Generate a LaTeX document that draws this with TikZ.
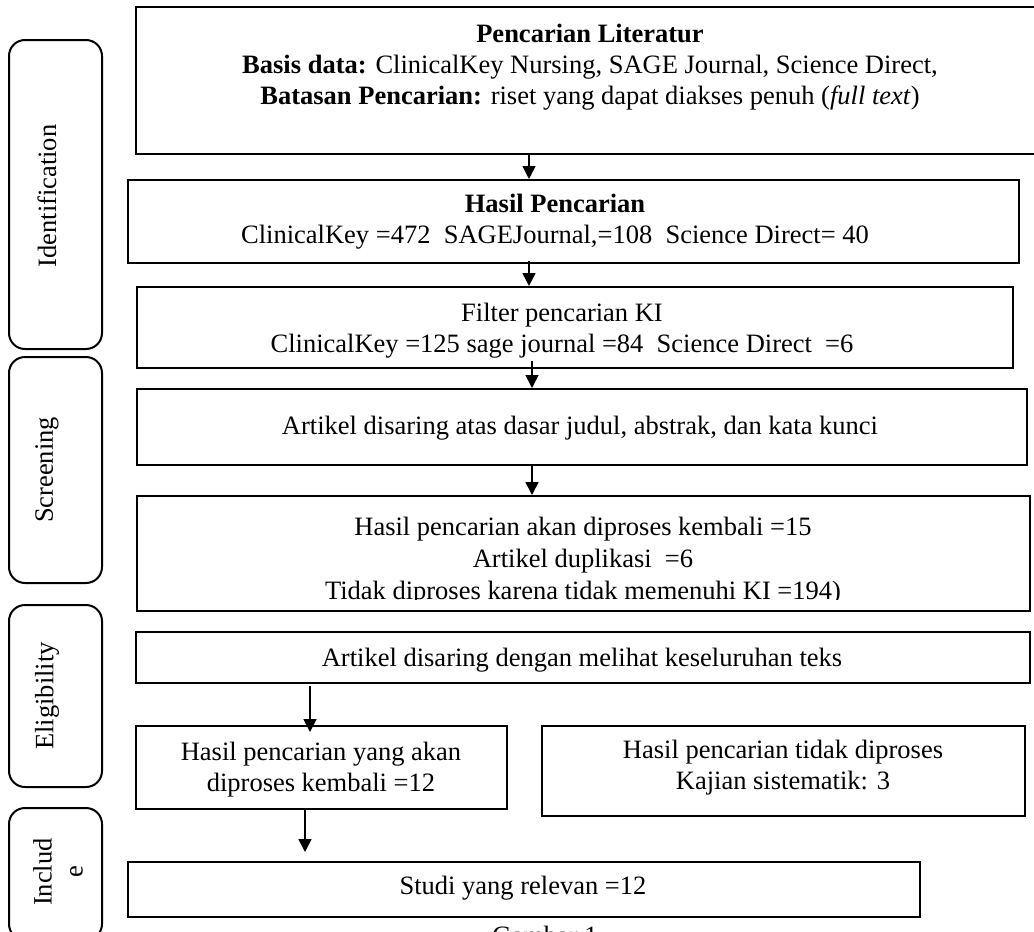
\documentclass[tikz,border=0pt]{standalone}
\usepackage{fontspec}
\setmainfont{Liberation Serif}
\usetikzlibrary{arrows.meta,calc}
\newcommand\myfs{\fontsize{26.5pt}{31pt}\selectfont}
\begin{document}
\begin{tikzpicture}[x=1pt,y=1pt,
  box/.style={draw,line width=2pt,inner sep=0pt,rectangle},
  side/.style={draw,line width=2pt,inner sep=0pt,rectangle,rounded corners=16pt,minimum width=93pt},
  txt/.style={inner sep=0pt,font=\myfs,align=center},
  arr/.style={line width=1.6pt,-{Triangle[length=13pt,width=13pt]}}]
\useasboundingbox (0,0) rectangle (1034,-932);
% boxes
\node[box,minimum width=908pt,minimum height=147pt] (b1) at (590,-80.5) {};
\node[box,minimum width=891pt,minimum height=83pt] (b2) at (573.5,-221.5) {};
\node[box,minimum width=876pt,minimum height=81pt] (b3) at (575,-327.5) {};
\node[box,minimum width=890pt,minimum height=76pt] (b4) at (582,-427) {};
\node[box,minimum width=893pt,minimum height=115pt] (b5) at (583.5,-553.5) {};
\node[box,minimum width=894pt,minimum height=51pt] (b6) at (583,-657.5) {};
\node[box,minimum width=371pt,minimum height=83pt] (b7) at (321.5,-767.5) {};
\node[box,minimum width=483pt,minimum height=90pt] (b9) at (783.5,-771) {};
\node[box,minimum width=792pt,minimum height=55pt] (b8) at (524,-889.5) {};
% side boxes
\node[side,minimum height=309pt] (s1) at (55.5,-194.5) {};
\node[side,minimum height=226pt] (s2) at (55.5,-470) {};
\node[side,minimum height=182pt] (s3) at (55.5,-696) {};
\node[side,minimum height=132pt] (s4) at (55.5,-874) {};
% side labels
\node[txt,rotate=90] (l1) at (47,-196) {Identification};
\node[txt,rotate=90] (l2) at (47,-470) {Screening};
\node[txt,rotate=90] (l3) at (47,-696) {Eligibility};
\node[txt,rotate=90] (l4) at (58,-872) {Includ\\e};
% texts
\node[txt] (t1) at (590,-67) {\textbf{Pencarian Literatur}\\
  \textbf{Basis data:} ClinicalKey Nursing, SAGE Journal, Science Direct,\\
  \textbf{Batasan Pencarian:} riset yang dapat diakses penuh (\textit{full text})};
\node[txt] (t2) at (555,-222) {\textbf{Hasil Pencarian}\\
  ClinicalKey =472\ \ SAGEJournal,=108\ \ Science Direct= 40};
\node[txt] (t3) at (562,-331) {Filter pencarian KI\\
  ClinicalKey =125 sage journal =84\ \ Science Direct\ \ =6};
\node[txt] (t4) at (580,-428) {Artikel disaring atas dasar judul, abstrak, dan kata kunci};
\begin{scope}
\clip (137,-497) rectangle (1030,-599);
\node[txt,font=\fontsize{26.5pt}{32pt}\selectfont] (t5) at (583,-561) {Hasil pencarian akan diproses kembali =15\\
  Artikel duplikasi\ \ =6\\
  Tidak diproses karena tidak memenuhi KI =194)};
\end{scope}
\node[txt] (t6) at (582,-660) {Artikel disaring dengan melihat keseluruhan teks};
\node[txt] (t7) at (321,-770) {Hasil pencarian yang akan\\ diproses kembali =12};
\node[txt] (t9) at (783,-768) {Hasil pencarian tidak diproses\\ Kajian sistematik: 3};
\node[txt] (t8) at (523,-888) {Studi yang relevan =12};
\node[txt,anchor=base] (cap) at (545,-944) {Gambar 1};
% arrow columns
\coordinate (x1) at (529,0);
\coordinate (x3) at (532,0);
\coordinate (x5) at (310,0);
\coordinate (x6) at (305,0);
% arrows
\draw[arr] (b1.south -| x1) -- (b2.north -| x1);
\draw[arr] ($(b2.south -| x1)+(0,3)$) -- (b3.north -| x1);
\draw[arr] ($(b3.south -| x3)+(0,8)$) -- (b4.north -| x3);
\draw[arr] (b4.south -| x3) -- (b5.north -| x3);
\draw[arr] ($(b6.south -| x5)+(0,-2)$) -- ($(b7.north -| x5)+(0,-7)$);
\draw[arr] ($(b7.south -| x6)+(0,2)$) -- ($(b8.north -| x6)+(0,9)$);
\end{tikzpicture}
\end{document}
